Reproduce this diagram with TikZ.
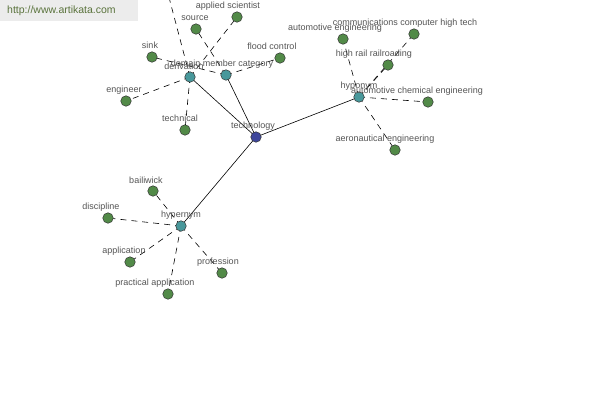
\documentclass[tikz,border=0pt]{standalone}
\usepackage{fontspec}
\setmainfont{Liberation Sans}
\begin{document}
\begin{tikzpicture}[x=1pt,y=-1pt,
  leaf/.style={circle,draw=black!80,line width=0.5pt,fill=leafgreen,minimum size=10.5pt,inner sep=0pt},
  mid/.style={circle,draw=black!80,line width=0.5pt,fill=midteal,minimum size=10.5pt,inner sep=0pt},
  root/.style={circle,draw=black!80,line width=0.5pt,fill=rootblue,minimum size=10.5pt,inner sep=0pt},
  lbl/.style={font=\fontsize{9pt}{10pt}\selectfont,text=labelgray,inner sep=0pt},
  solidedge/.style={draw=black,line width=0.6pt},
  dashedge/.style={draw=black,line width=0.6pt,dashed,dash pattern=on 6pt off 5pt}]
\definecolor{leafgreen}{RGB}{82,138,72}
\definecolor{midteal}{RGB}{72,152,155}
\definecolor{rootblue}{RGB}{62,70,155}
\definecolor{labelgray}{RGB}{85,85,85}
\definecolor{wmbg}{RGB}{236,236,236}
\definecolor{wmtext}{RGB}{90,115,60}
\useasboundingbox (0,0) rectangle (600,400);
\fill[white] (0,0) rectangle (600,400);
% watermark
\fill[wmbg] (0,0) rectangle (138,21);
\node[font=\fontsize{10.5pt}{12pt}\selectfont,text=wmtext,anchor=west,inner sep=0pt] (wm) at (7,11) {http://www.artikata.com};
% coordinates of nodes
\coordinate (tech) at (256,137);
\coordinate (der) at (190,77);
\coordinate (dmc) at (226,75);
\coordinate (hypo) at (359,97);
\coordinate (hyper) at (181,226);
\coordinate (offtop) at (166,-14);
% edges
\begin{scope}
\clip (0,0) rectangle (600,400);
\draw[solidedge] (tech) -- (der);
\draw[solidedge] (tech) -- (dmc);
\draw[solidedge] (tech) -- (hypo);
\draw[solidedge] (tech) -- (hyper);
\draw[dashedge] (der) -- (offtop);
\draw[dashedge] (der) -- (237,17);
\draw[dashedge] (der) -- (126,101);
\draw[dashedge] (der) -- (185,130);
\draw[dashedge] (dmc) -- (196,29);
\draw[dashedge] (dmc) -- (152,57);
\draw[dashedge] (dmc) -- (280,58);
\draw[dashedge] (hypo) -- (343,39);
\draw[dashedge] (hypo) -- (414,34);
\draw[dashedge] (hypo) -- (388,65);
\draw[dashedge] (hypo) -- (428,102);
\draw[dashedge] (hypo) -- (395,150);
\draw[dashedge] (hyper) -- (153,191);
\draw[dashedge] (hyper) -- (108,218);
\draw[dashedge] (hyper) -- (130,262);
\draw[dashedge] (hyper) -- (168,294);
\draw[dashedge] (hyper) -- (222,273);
\end{scope}
% leaf nodes
\node[leaf] (source) at (196,29) {};
\node[leaf] (applsci) at (237,17) {};
\node[leaf] (sink) at (152,57) {};
\node[leaf] (flood) at (280,58) {};
\node[leaf] (engineer) at (126,101) {};
\node[leaf] (technical) at (185,130) {};
\node[leaf] (autoeng) at (343,39) {};
\node[leaf] (comm) at (414,34) {};
\node[leaf] (rail) at (388,65) {};
\node[leaf] (autochem) at (428,102) {};
\node[leaf] (aero) at (395,150) {};
\node[leaf] (bailiwick) at (153,191) {};
\node[leaf] (discipline) at (108,218) {};
\node[leaf] (application) at (130,262) {};
\node[leaf] (practical) at (168,294) {};
\node[leaf] (profession) at (222,273) {};
% middle nodes
\node[mid] (nder) at (der) {};
\node[mid] (ndmc) at (dmc) {};
\node[mid] (nhypo) at (hypo) {};
\node[mid] (nhyper) at (hyper) {};
\node[root] (ntech) at (tech) {};
% labels
\node[lbl] (l1) at (195,18) {source};
\node[lbl] (l2) at (228,6) {applied scientist};
\node[lbl] (l3) at (150,45) {sink};
\node[lbl] (l4) at (272,46) {flood control};
\node[lbl] (l5) at (124,90) {engineer};
\node[lbl] (l6) at (180,118) {technical};
\node[lbl] (l7) at (335,28) {automotive engineering};
\node[lbl] (l8) at (405,23) {communications computer high tech};
\node[lbl] (l9) at (374,54) {high rail railroading};
\node[lbl] (l10) at (417,91) {automotive chemical engineering};
\node[lbl] (l11) at (385,139) {aeronautical engineering};
\node[lbl] (l12) at (146,180) {bailiwick};
\node[lbl] (l13) at (101,207) {discipline};
\node[lbl] (l14) at (124,251) {application};
\node[lbl] (l15) at (155,283) {practical application};
\node[lbl] (l16) at (218,262) {profession};
\node[lbl] (l17) at (184,66) {derivation};
\node[lbl] (l18) at (222,64) {domain member category};
\node[lbl] (l19) at (359,86) {hyponym};
\node[lbl] (l20) at (181,215) {hypernym};
\node[lbl] (l21) at (253,126) {technology};
\end{tikzpicture}
\end{document}
